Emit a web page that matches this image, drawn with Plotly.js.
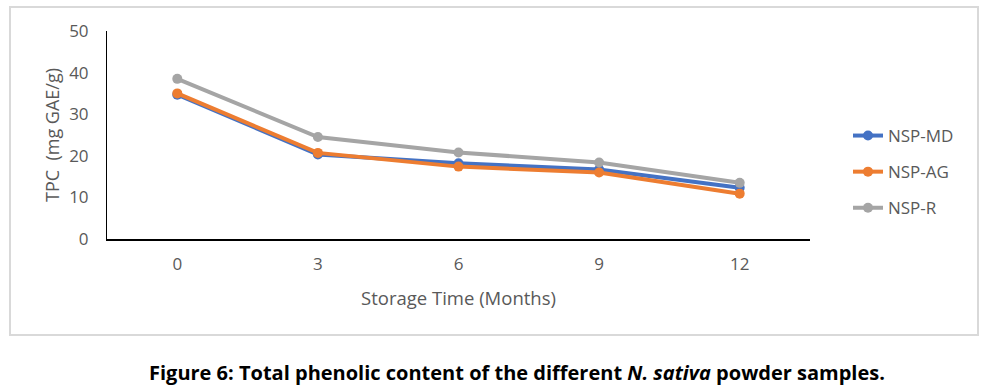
<!DOCTYPE html>
<html><head><meta charset="utf-8">
<script src="https://cdn.plot.ly/plotly-3.0.1.min.js"></script>
<style>html,body{margin:0;padding:0;background:#fff}#c{width:989px;height:389px}</style>
</head><body><div id="c"></div>
<script>
const months = [0, 3, 6, 9, 12];
const nspMD = [34.7, 20.3, 18.2, 16.7, 12.3];
const nspAG = [35.0, 20.7, 17.4, 16.0, 10.9];
const nspR  = [38.5, 24.5, 20.8, 18.4, 13.5];
const seriesNames = ['NSP-MD', 'NSP-AG', 'NSP-R'];
const colors = ['#4472C4', '#ED7D31', '#A5A5A5'];
const yTicks = [0, 10, 20, 30, 40, 50];

const font = 'Open Sans, Noto Sans, sans-serif';
const all = [nspMD, nspAG, nspR];
const traces = all.map((vals, i) => ({
  x: months, y: vals, name: seriesNames[i], type: 'scatter', mode: 'lines+markers',
  legendgroup: 'g' + i,
  line: {color: colors[i], width: 4},
  marker: {color: colors[i], size: 10}
}));

const L = 107, R = 810, T = 31, B = 239, W = 989, H = 389;
const pw = R - L, ph = B - T;
const px = v => (v - L) / pw, py = v => (B - v) / ph;

const layout = {
  width: W, height: H,
  margin: {l: L, r: W - R, t: T, b: H - B, pad: 0},
  paper_bgcolor: '#fff', plot_bgcolor: '#fff',
  font: {family: font, color: '#595959', size: 17},
  showlegend: true,
  legend: {x: px(848), y: py(118), xanchor: 'left', yanchor: 'top',
    font: {size: 17, color: '#595959'}, tracegroupgap: 11, bgcolor: 'rgba(0,0,0,0)'},
  xaxis: {type: 'linear', range: [-1.5, 13.5], tickvals: months, ticktext: months.map(String),
    showgrid: false, zeroline: false, showline: true, linecolor: '#000', linewidth: 2,
    ticks: '', ticklabelstandoff: 9, tickfont: {size: 17, color: '#595959'},
    title: {text: 'Storage Time (Months)', font: {size: 18.5, color: '#595959'}, standoff: 18}},
  yaxis: {range: [0, 50], tickvals: yTicks, showgrid: false, zeroline: false,
    showline: true, linecolor: '#000', linewidth: 1, ticks: '', ticklabelstandoff: 14,
    tickfont: {size: 17, color: '#595959'},
    title: {text: 'TPC  (mg GAE/g)', font: {size: 18, color: '#595959'}, standoff: 4}},
  shapes: [{type: 'rect', xref: 'paper', yref: 'paper', x0: px(10), x1: px(978), y0: py(335), y1: py(7),
    line: {color: '#D9D9D9', width: 2}, fillcolor: 'rgba(0,0,0,0)', layer: 'below'}],
  annotations: [{xref: 'paper', yref: 'paper', x: px(517), y: py(372), xanchor: 'center', yanchor: 'middle',
    showarrow: false, text: '<b>Figure 6: Total phenolic content of the different <i>N. sativa</i> powder samples.</b>',
    font: {size: 20, color: '#000', family: font}}]
};
Plotly.newPlot('c', traces, layout, {displayModeBar: false, staticPlot: true});
</script></body></html>
